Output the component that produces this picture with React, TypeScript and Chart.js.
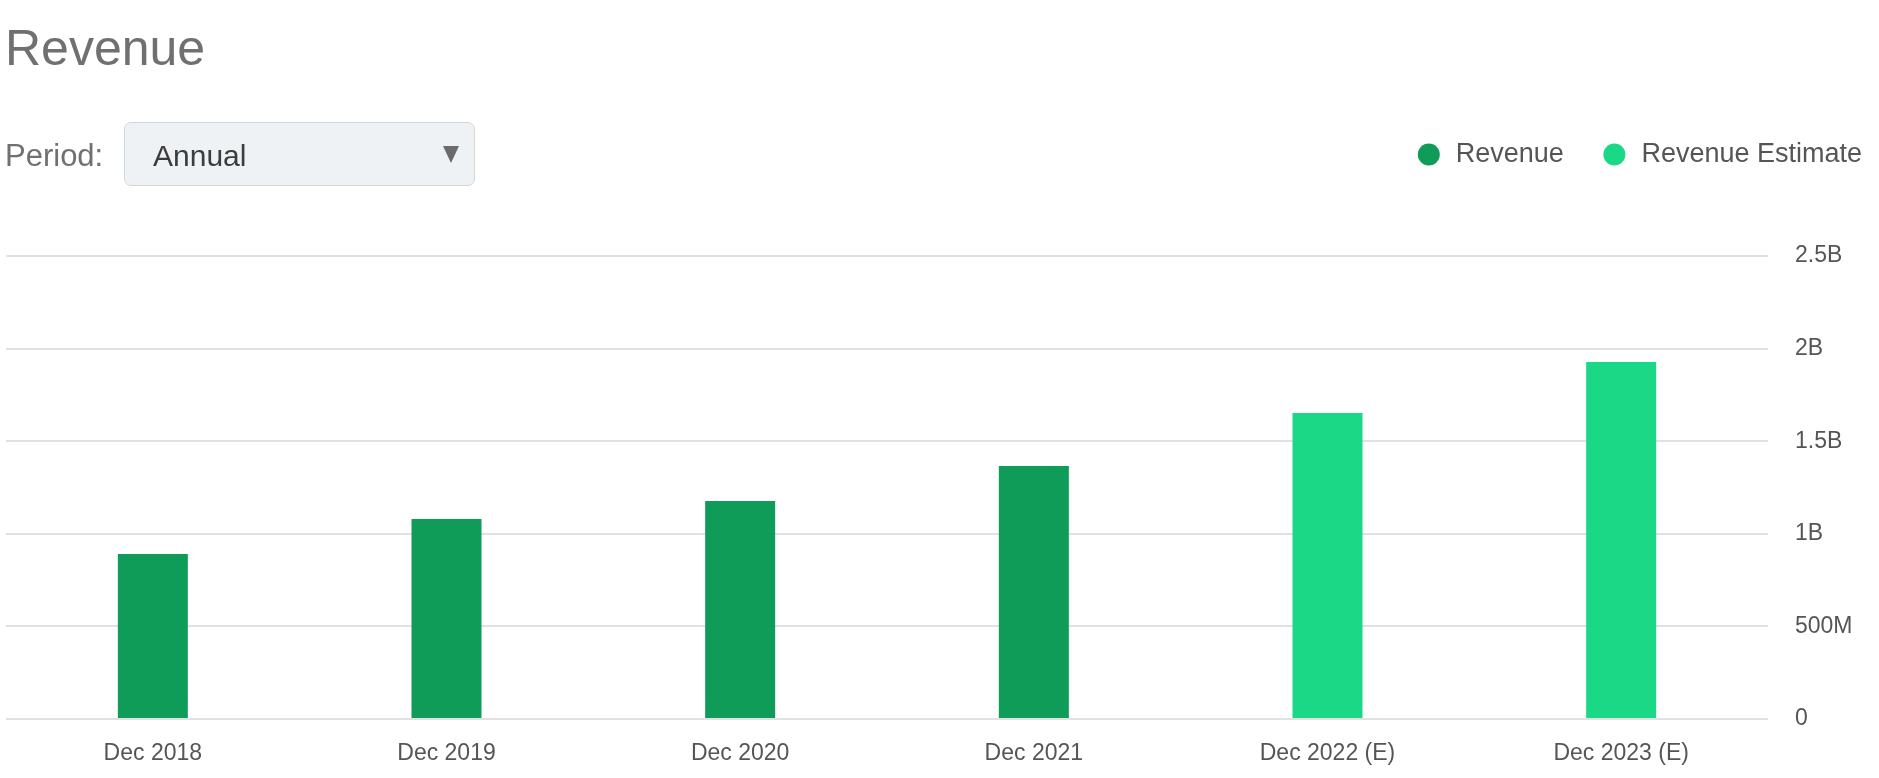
import React, { useEffect, useRef } from "react";
import { Chart, registerables } from "chart.js";

Chart.register(...registerables);

const categories = ["Dec 2018", "Dec 2019", "Dec 2020", "Dec 2021", "Dec 2022 (E)", "Dec 2023 (E)"];
const revenue = [0.891e9, 1.08e9, 1.177e9, 1.366e9, null, null];
const revenueEstimate = [null, null, null, null, 1.652e9, 1.928e9];
const yTickValues = [0, 5e8, 1e9, 1.5e9, 2e9, 2.5e9];
const yTickLabels = ["0", "500M", "1B", "1.5B", "2B", "2.5B"];

const FONT = "'Liberation Sans', Arial, Helvetica, sans-serif";

const legendSpacer = {
  id: "legendSpacer",
  beforeInit(chart: any) {
    const legend = chart.legend;
    if (!legend) return;
    const origFit = legend.fit;
    legend.fit = function fit() {
      origFit.call(this);
      this.height = 152;
    };
  },
};

export default function App() {
  const canvasRef = useRef<HTMLCanvasElement | null>(null);

  useEffect(() => {
    if (!canvasRef.current) return;
    const chart = new Chart(canvasRef.current, {
      type: "bar",
      data: {
        labels: categories,
        datasets: [
          {
            label: "Revenue",
            data: revenue,
            backgroundColor: "#0f9b58",
            grouped: false,
            barPercentage: 0.2384,
            categoryPercentage: 1,
          } as any,
          {
            label: "Revenue Estimate",
            data: revenueEstimate,
            backgroundColor: "#1bd886",
            grouped: false,
            barPercentage: 0.2384,
            categoryPercentage: 1,
          } as any,
        ],
      },
      plugins: [legendSpacer],
      options: {
        responsive: false,
        animation: false,
        devicePixelRatio: 1,
        layout: { padding: { top: 104, left: 6, right: -20, bottom: 0 } },
        plugins: {
          legend: {
            position: "top",
            align: "end",
            labels: {
              usePointStyle: true,
              pointStyle: "circle",
              boxWidth: 27,
              boxHeight: 15.56,
              padding: 37,
              color: "#555555",
              font: { size: 27, family: FONT },
            },
          },
          tooltip: { enabled: false },
        },
        scales: {
          x: {
            grid: { display: false, drawTicks: false },
            border: { display: false },
            ticks: {
              color: "#555555",
              font: { size: 23, family: FONT },
              padding: 21,
              maxRotation: 0,
              autoSkip: false,
            },
            afterFit: (s: any) => {
              s.height = 59;
            },
          },
          y: {
            position: "right",
            min: 0,
            max: 2.5e9,
            grid: { color: "#e1e1e1", lineWidth: 2, drawTicks: false },
            border: { display: false },
            ticks: {
              stepSize: 5e8,
              padding: 27,
              color: "#555555",
              font: { size: 23, family: FONT },
              callback: (v: any) => {
                const i = yTickValues.indexOf(Number(v));
                return i >= 0 ? yTickLabels[i] : "";
              },
            },
            afterFit: (s: any) => {
              s.width = 131;
            },
          },
        },
      } as any,
    });
    return () => chart.destroy();
  }, []);

  return (
    <div
      style={{
        position: "fixed",
        left: 0,
        top: 0,
        width: 1879,
        height: 778,
        background: "#ffffff",
        overflow: "hidden",
        fontFamily: FONT,
      }}
    >
      <canvas
        ref={canvasRef}
        width={1879}
        height={778}
        style={{ position: "absolute", left: 0, top: 0, width: 1879, height: 778, display: "block" }}
      />
      <div
        style={{
          position: "absolute",
          left: 5,
          top: 23,
          fontSize: 50,
          lineHeight: "50px",
          color: "#707070",
          whiteSpace: "nowrap",
        }}
      >
        Revenue
      </div>
      <div
        style={{
          position: "absolute",
          left: 5,
          top: 140,
          fontSize: 31,
          lineHeight: "31px",
          color: "#707070",
          whiteSpace: "nowrap",
        }}
      >
        Period:
      </div>
      <div
        style={{
          position: "absolute",
          left: 124,
          top: 122,
          width: 351,
          height: 64,
          boxSizing: "border-box",
          border: "1px solid #d4d7da",
          borderRadius: 7,
          background: "#eff2f5",
        }}
      >
        <div
          style={{
            position: "absolute",
            left: 28,
            top: 18,
            fontSize: 30,
            lineHeight: "30px",
            color: "#3c3c3c",
            whiteSpace: "nowrap",
          }}
        >
          Annual
        </div>
        <div
          style={{
            position: "absolute",
            left: 318,
            top: 23,
            width: 0,
            height: 0,
            borderLeft: "8.5px solid transparent",
            borderRight: "8.5px solid transparent",
            borderTop: "17px solid #6b6b6b",
          }}
        />
      </div>
    </div>
  );
}
